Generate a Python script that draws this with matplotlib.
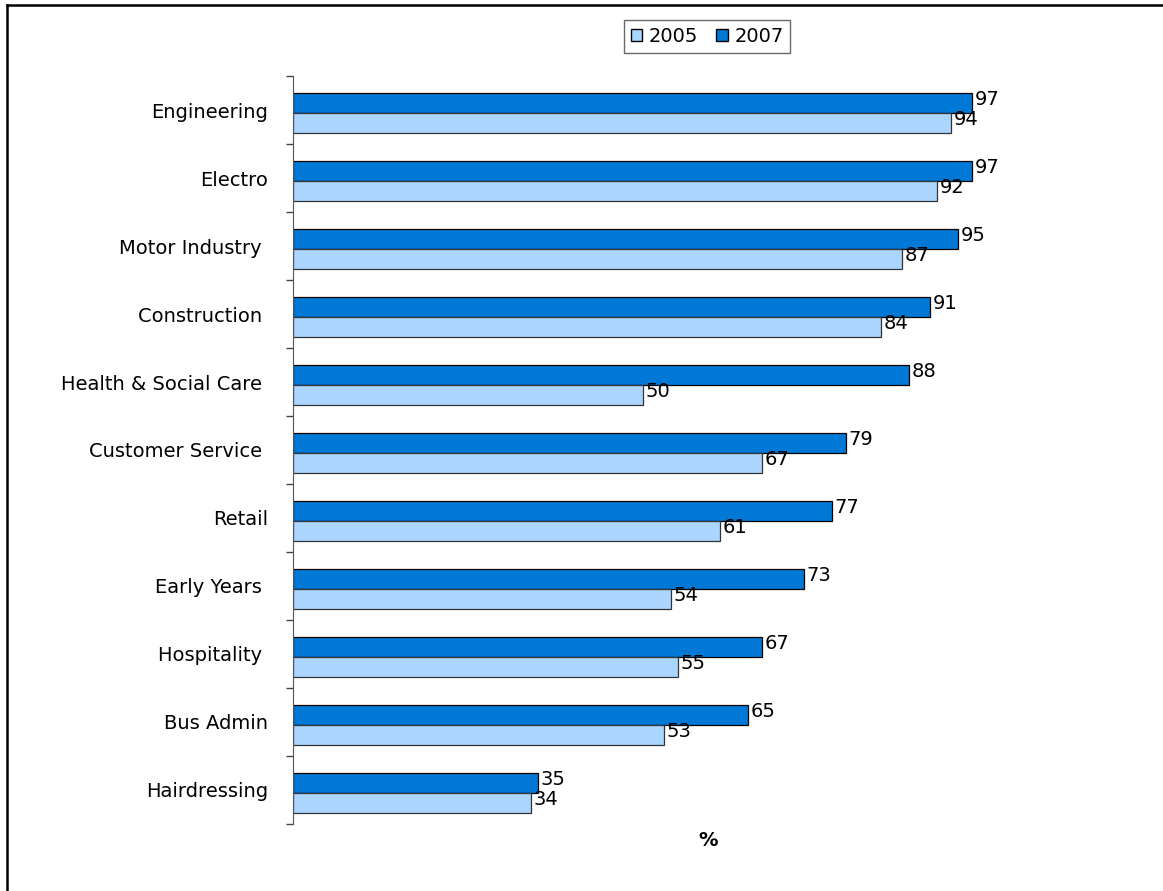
import matplotlib
matplotlib.use("Agg")
import matplotlib.pyplot as plt
from matplotlib.lines import Line2D
from matplotlib.patches import Patch

# sectors, top to bottom
sectors = ["Engineering", "Electro", "Motor Industry ", "Construction ",
           "Health & Social Care ", "Customer Service ", "Retail",
           "Early Years ", "Hospitality ", "Bus Admin", "Hairdressing"]
pct_2005 = [94, 92, 87, 84, 50, 67, 61, 54, 55, 53, 34]
pct_2007 = [97, 97, 95, 91, 88, 79, 77, 73, 67, 65, 35]

c2005 = "#A9D5FE"
c2007 = "#0079D6"


def main():
  fig = plt.figure(figsize=(11.63, 8.91), dpi=100)
  ax = fig.add_axes([0.2519, 0.0752, 0.6019, 0.8395])

  h = 0.295
  y = list(range(len(sectors)))
  y07 = [v - 0.1 for v in y]
  y05 = [v + 0.195 for v in y]

  b07 = ax.barh(y07, pct_2007, height=h, color=c2007, edgecolor="black", linewidth=0.9)
  b05 = ax.barh(y05, pct_2005, height=h, color=c2005, edgecolor="#333333", linewidth=0.9)

  # value labels just right of each bar
  for bars, vals in ((b07, pct_2007), (b05, pct_2005)):
    for b, v in zip(bars, vals):
      ax.annotate(str(v), (v, b.get_y() + b.get_height() / 2),
                  xytext=(2, 2.5), textcoords="offset points",
                  ha="left", va="center", fontsize=14, color="black")

  ax.set_xlim(0, 100)
  ax.set_ylim(len(sectors) - 0.5, -0.5)

  # category labels sit between boundary ticks
  ax.set_yticks(y)
  ax.set_yticklabels(sectors, fontsize=14)
  ax.tick_params(axis="y", which="major", length=0, pad=18)
  ax.set_yticks([v - 0.5 for v in range(len(sectors) + 1)], minor=True)
  ax.tick_params(axis="y", which="minor", length=5, width=1, color="#444444")

  ax.set_xticks([])
  for s in ("top", "right", "bottom"):
    ax.spines[s].set_visible(False)
  ax.spines["left"].set_color("#555555")

  fig.text(0.609, 0.057, "%", fontsize=14, fontweight="bold", ha="center", va="center")

  handles = [Patch(facecolor=c2005, edgecolor="black", label="2005"),
             Patch(facecolor=c2007, edgecolor="black", label="2007")]
  fig.legend(handles=handles, loc="center", bbox_to_anchor=(0.608, 0.959),
             ncol=2, fontsize=14, frameon=True, fancybox=False, edgecolor="#444444",
             handlelength=0.6, handleheight=0.6, handletextpad=0.35,
             columnspacing=0.9, borderpad=0.35, borderaxespad=0)

  # outer frame lines (left and top)
  fig.add_artist(Line2D([0.0058, 0.0058], [0, 0.9945], transform=fig.transFigure,
                        color="black", linewidth=1.8))
  fig.add_artist(Line2D([0.0058, 1], [0.9945, 0.9945], transform=fig.transFigure,
                        color="black", linewidth=1.8))

  fig.savefig("out.png", dpi=100)


if __name__ == "__main__":
  main()
